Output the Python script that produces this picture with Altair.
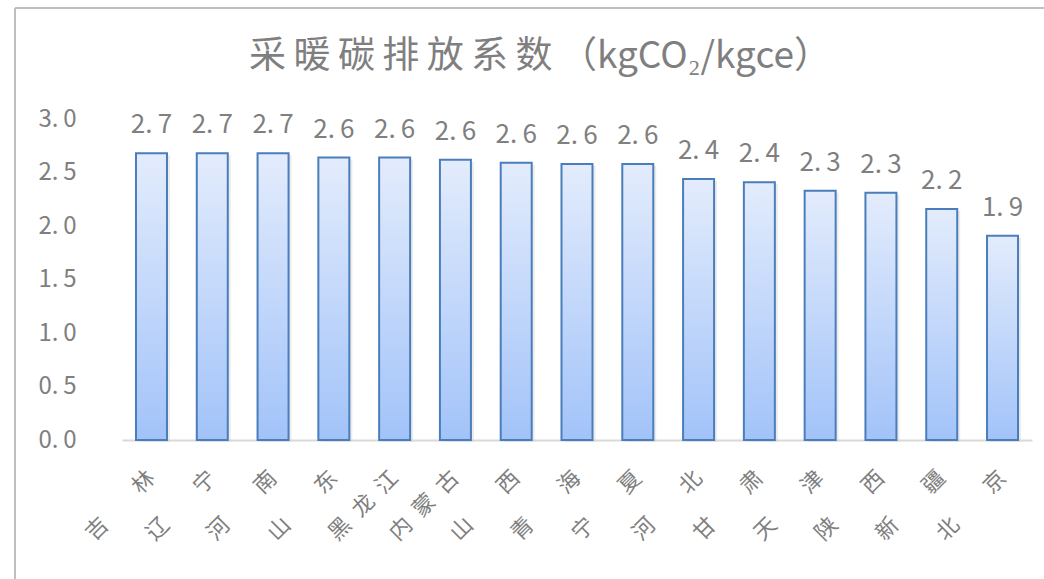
import altair as alt
import pandas as pd

provinces = ["吉　林", "辽　宁", "河　南", "山　东", "黑龙江", "内蒙古", "山　西", "青　海",
             "宁　夏", "河　北", "甘　肃", "天　津", "陕　西", "新　疆", "北　京"]
values = [2.68, 2.68, 2.68, 2.64, 2.64, 2.62, 2.59, 2.58, 2.58, 2.44, 2.41, 2.33, 2.31, 2.16, 1.91]
y_ticks = [0.0, 0.5, 1.0, 1.5, 2.0, 2.5, 3.0]
title_text = "采暖碳排放系数（kgCO₂/kgce）"

df = pd.DataFrame({"province": provinces, "value": values})

W, H = 910, 321
FONT = "Noto Sans CJK SC"
GRAY = "#7f7f7f"

# spread the characters of the rotated labels like the original
x_label_expr = "join(split(datum.label, ''), '\u2002')"

x_enc = alt.X("province:N", sort=provinces, title=None,
              scale=alt.Scale(paddingInner=0.49, paddingOuter=0.23),
              axis=alt.Axis(labelAngle=-45, labelAlign="right", labelBaseline="middle",
                            labelPadding=34, labelFontSize=22, labelColor=GRAY, labelFont=FONT,
                            labelExpr=x_label_expr,
                            ticks=False, domainColor="#d9d9d9", domainWidth=2))
y_enc = alt.Y("value:Q", title=None, scale=alt.Scale(domain=[0, 3], nice=False),
              axis=alt.Axis(values=y_ticks, format=".1f", grid=False, domain=False, ticks=False,
                            labelExpr="replace(datum.label, '.', '.\u2009')",
                            labelAlign="center", labelPadding=65, labelFontSize=24,
                            labelColor=GRAY, labelFont=FONT))

gradient = alt.Gradient(gradient="linear", x1=0, y1=0, x2=0, y2=1,
                        stops=[alt.GradientStop(color="#e3ecfc", offset=0),
                               alt.GradientStop(color="#a2c3f9", offset=1)])

base = alt.Chart(df)

shadow = base.mark_bar(color="#cfcfcf", opacity=0.4, xOffset=3, yOffset=2).encode(x=x_enc, y=y_enc)
bars = base.mark_bar(color=gradient, stroke="#4a7ebb", strokeWidth=2).encode(x=x_enc, y=y_enc)
labels = base.transform_calculate(
    lab="replace(format(datum.value, '.1f'), '.', '.\u2009')"
).mark_text(dy=-20, baseline="alphabetic", fontSize=26, color=GRAY, font=FONT).encode(
    x=x_enc, y=y_enc, text="lab:N")

title = alt.Chart(pd.DataFrame({"t": [title_text]})).transform_calculate(
    spaced="join(split(substring(datum.t, 0, 7), ''), '\u2009') + '\u2009' + substring(datum.t, 7)"
).mark_text(
    fontSize=37, color=GRAY, font=FONT, align="center", baseline="middle"
).encode(x=alt.value(418), y=alt.value(-62), text="spaced:N")

frame_left = alt.Chart(df).mark_rule(color="#bfbfbf", strokeWidth=2).encode(
    x=alt.value(-107), y=alt.value(-111), y2=alt.value(470))
frame_top = alt.Chart(df).mark_rule(color="#bfbfbf", strokeWidth=2).encode(
    x=alt.value(-107), x2=alt.value(930), y=alt.value(-111))

chart = alt.layer(frame_left, frame_top, shadow, bars, labels, title).properties(
    width=W, height=H,
    autosize=alt.AutoSizeParams(type="none"),
    padding={"left": 122, "top": 119, "right": 12, "bottom": 139},
    background="white",
).configure_view(stroke=None)

chart.save("out.html", embed_options={"renderer": "svg", "actions": False})
